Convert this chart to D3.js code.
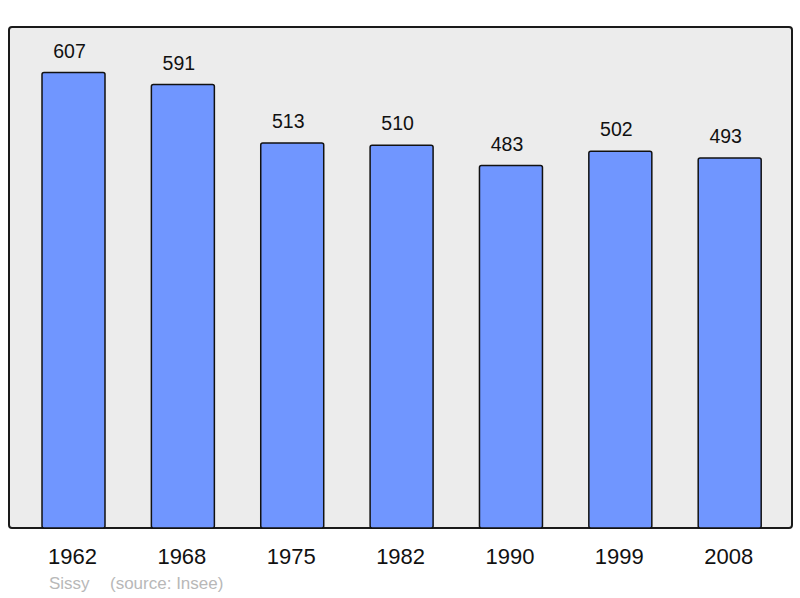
<!DOCTYPE html>
<html>
<head>
<meta charset="utf-8">
<script src="https://cdn.jsdelivr.net/npm/d3@7"></script>
<style>
  body { margin: 0; background: #fff; }
  text { font-family: "Liberation Sans", Arial, sans-serif; }
</style>
</head>
<body>
<div id="chart"></div>
<script>
const years = ["1962", "1968", "1975", "1982", "1990", "1999", "2008"];
const population = [607, 591, 513, 510, 483, 502, 493];
const commune = "Sissy";
const source = "(source: Insee)";

const width = 800;
const height = 598;
const panel = { left: 9, top: 27, right: 792, bottom: 528 };

const svg = d3.select("#chart")
  .append("svg")
  .attr("width", width)
  .attr("height", height);

svg.append("rect")
  .attr("x", panel.left)
  .attr("y", panel.top)
  .attr("width", panel.right - panel.left)
  .attr("height", panel.bottom - panel.top)
  .attr("rx", 3)
  .style("fill", "#ececec")
  .style("stroke", "#1a1a1a")
  .style("stroke-width", 2);

// bands are laid out a little wider than the panel so bars line up
const x = d3.scaleBand()
  .domain(years)
  .range([panel.left + 0.2, panel.right + 2])
  .paddingInner(0.424)
  .paddingOuter(0.3);

const y = d3.scaleLinear()
  .domain([0, d3.max(population) * 1.1])
  .range([panel.bottom, panel.top]);

const data = years.map((yr, i) => ({ year: yr, value: population[i] }));

svg.selectAll(".bar")
  .data(data)
  .enter()
  .append("rect")
  .attr("class", "bar")
  .attr("x", d => x(d.year))
  .attr("y", d => y(d.value))
  .attr("width", x.bandwidth())
  .attr("height", d => y(0) - y(d.value))
  .attr("rx", 2)
  .style("fill", "#7096ff")
  .style("stroke", "#111")
  .style("stroke-width", 1.5);

// value labels sit a touch left of the bar centre, as in the original
svg.selectAll(".value")
  .data(data)
  .enter()
  .append("text")
  .attr("class", "value")
  .attr("x", d => x(d.year) + x.bandwidth() / 2 - 4)
  .attr("y", d => y(d.value) - 15)
  .attr("text-anchor", "middle")
  .style("font-size", "19.5px")
  .style("fill", "#111")
  .text(d => d.value);

// year labels under the panel
const axis = d3.axisBottom(x).tickSize(0).tickPadding(0);
const axisG = svg.append("g")
  .attr("transform", `translate(0, ${panel.bottom})`)
  .call(axis);
axisG.select(".domain").remove();
axisG.selectAll("text")
  .attr("x", -1)
  .attr("y", 36)
  .attr("dy", 0)
  .style("font-family", "'Liberation Sans', Arial, sans-serif")
  .style("font-size", "22px")
  .style("fill", "#111");

svg.append("text")
  .attr("x", 49)
  .attr("y", 589)
  .style("font-size", "17px")
  .style("fill", "#b8b8b8")
  .text(commune);

svg.append("text")
  .attr("x", 110)
  .attr("y", 589)
  .style("font-size", "17px")
  .style("fill", "#b8b8b8")
  .text(source);
</script>
</body>
</html>
